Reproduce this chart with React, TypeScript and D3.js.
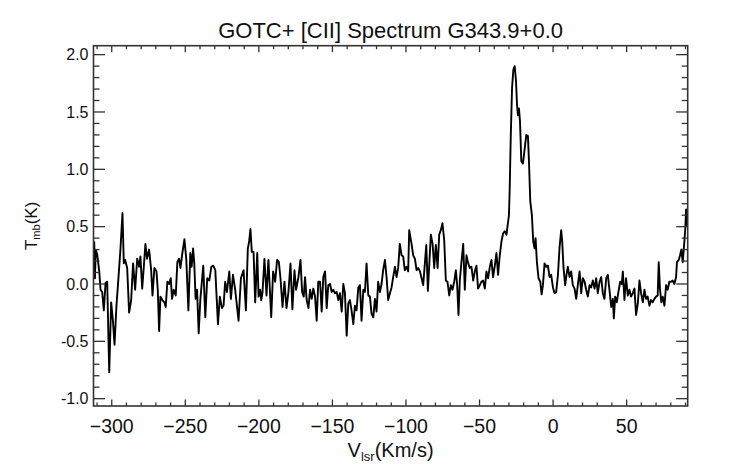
import React from "react";
import * as d3 from "d3";

const title = "GOTC+ [CII] Spectrum G343.9+0.0";

const velocity = [
  -311.9,-311.4,-310.9,-309.9,-308.5,-307.6,-306.5,-305.4,-304.2,-303.1,-301.7,-300.4,-299.2,-298.1,-296.8,-295.4,-294.0,-292.7,-291.8,-290.9,
  -289.5,-288.2,-286.8,-285.5,-284.1,-282.7,-281.4,-280.5,-279.3,-278.2,-277.1,-276.0,-274.6,-273.2,-272.3,-271.0,-269.6,-268.7,-267.8,-266.9,
  -265.6,-264.2,-263.3,-262.2,-261.0,-259.9,-259.0,-257.9,-256.5,-255.4,-254.2,-253.3,-252.0,-250.6,-249.3,-247.9,-246.6,-245.7,-244.7,-243.9,
  -243.0,-242.0,-240.9,-239.8,
  -237.8,-236.4,-235.1,-233.7,-232.3,-231.0,-229.6,-227.8,-226.5,-225.1,-224.0,-222.9,-221.7,-220.1,-219.0,-217.6,-216.1,-213.8,-212.2,-210.4,
  -208.8,-207.5,-206.6,-205.7,-204.8,-203.6,-202.5,-201.1,-200.2,-199.1,-198.4,-197.5,-196.2,-194.8,-193.5,-191.6,-190.3,-188.9,-187.6,-186.4,
  -185.3,-183.9,-182.6,-181.2,-179.9,-178.5,-177.2,-175.8,-174.7,-173.1,-171.7,-170.6,-169.5,-168.6,
  -167.5,-166.3,-165.2,-164.1,-163.0,-161.8,-160.7,-159.6,-158.4,-157.3,-156.2,-155.0,-153.9,-152.8,-151.6,-150.5,-149.4,-148.3,-147.1,-146.0,
  -144.9,-143.7,-142.6,-141.5,-140.3,-139.2,-138.1,-137.0,-135.8,-134.7,-133.6,-132.4,-131.3,-130.2,-129.0,-127.9,-126.8,-125.6,-124.5,-123.4,
  -122.2,-121.1,-120.0,-118.9,-117.7,-116.6,-115.5,-114.3,-113.2,-112.1,-110.9,-109.8,-108.7,-107.5,-106.4,-105.3,-104.2,-103.0,-101.9,-100.8,
  -99.6,-98.5,-97.8,
  -96.2,-95.1,-93.9,-92.8,-91.7,-90.5,-89.4,-88.3,-87.1,-86.2,-85.1,-84.2,-83.1,-81.9,-80.8,-79.7,-78.5,-77.4,-76.3,-75.2,
  -74.0,-72.9,-71.8,-70.6,-69.5,-68.4,-67.2,-66.1,-65.2,-64.3,-63.4,-62.3,-61.1,-60.0,-58.9,-57.7,-56.6,-55.5,-54.3,-53.2,
  -52.1,-51.0,-49.8,-48.7,-47.6,-46.4,-45.3,-44.2,-43.0,-41.9,-40.8,-39.6,-38.5,-37.4,-36.3,-35.1,-34.0,-32.9,-31.7,
  -30.0,-29.5,-28.8,-27.9,-27.0,-26.1,-25.2,-24.5,-23.9,-23.2,-22.5,-21.6,-20.5,-19.3,-18.2,-17.1,-16.4,-15.5,-14.4,-13.5,
  -12.6,-11.9,-11.0,-9.9,-8.7,-7.8,-6.9,-5.8,-4.6,-3.5,-2.4,-1.3,-0.1,1.0,2.1,3.3,4.4,5.5,6.2,7.1,
  8.2,9.1,10.0,11.2,12.3,13.4,14.6,
  15.7,16.9,18.0,19.1,20.2,21.4,22.5,23.6,24.8,25.9,27.0,28.2,29.3,30.4,31.6,32.7,33.8,34.9,36.1,37.2,
  38.3,39.5,40.6,41.3,42.2,43.3,44.4,45.6,46.7,47.4,48.5,49.6,50.8,51.9,53.0,54.2,55.3,56.4,57.6,58.7,
  59.8,61.0,62.1,63.2,64.3,65.5,66.6,67.7,68.9,70.0,71.1,71.8,72.7,73.6,74.5,75.7,76.8,77.9,79.0,80.2,
  81.3,82.4,83.6,84.2,85.4,86.3,87.2,88.1,89.0,89.9,90.4,91.0,
];

const tmb = [
  0.37,0.05,0.30,0.26,0.11,-0.05,-0.07,-0.23,0.01,0.02,-0.77,-0.16,-0.32,-0.53,-0.19,0.06,0.32,0.62,0.18,0.21,
  0.14,-0.25,-0.14,0.18,-0.05,0.22,0.15,0.24,-0.04,0.15,0.35,0.22,0.30,0.12,-0.10,0.14,0.11,-0.05,-0.41,-0.11,
  -0.14,-0.16,-0.20,0.02,0.00,0.05,-0.13,-0.05,-0.10,0.19,0.22,0.14,0.27,0.39,0.21,-0.23,0.27,0.15,0.31,0.18,
  -0.13,-0.05,-0.43,-0.14,
  0.16,-0.29,0.05,0.03,0.15,0.16,0.12,-0.35,-0.11,-0.21,-0.19,0.02,-0.07,0.11,-0.13,0.08,-0.05,-0.32,0.05,0.12,
  -0.23,0.31,0.37,0.48,0.28,0.28,-0.16,0.27,-0.11,-0.05,-0.14,-0.07,0.22,-0.10,0.21,-0.29,0.11,0.02,0.21,0.19,
  0.05,-0.20,0.02,-0.21,-0.07,0.18,-0.22,0.12,-0.05,0.06,0.21,-0.07,-0.11,0.06,
  -0.14,-0.21,-0.05,-0.13,-0.04,-0.11,-0.32,0.02,0.02,-0.24,0.06,0.11,-0.21,-0.01,0.00,-0.07,-0.05,-0.08,-0.07,-0.14,
  -0.08,-0.24,0.00,-0.08,-0.45,-0.17,-0.14,-0.23,-0.35,-0.19,-0.23,-0.03,-0.01,-0.32,-0.05,-0.07,0.18,-0.10,-0.11,-0.26,
  -0.29,-0.13,-0.24,0.02,-0.07,0.00,0.12,0.21,0.06,-0.14,-0.08,-0.03,0.06,0.15,0.06,0.14,0.35,0.25,0.24,0.12,
  0.15,0.11,0.47,
  0.35,0.25,0.22,0.12,0.14,0.11,0.05,-0.01,0.19,0.34,-0.06,0.16,0.43,0.35,0.14,0.34,0.14,0.43,0.47,0.53,
  0.38,0.03,0.02,-0.10,-0.01,-0.05,0.02,0.12,-0.01,-0.27,0.03,0.19,0.35,-0.05,0.25,0.18,0.14,0.15,0.03,0.11,
  0.16,-0.04,-0.01,0.02,0.03,-0.04,0.11,0.05,0.15,0.21,0.06,0.16,0.27,0.08,0.24,0.37,0.44,0.46,0.43,
  0.60,0.83,1.27,1.71,1.87,1.90,1.77,1.56,1.47,1.53,1.42,1.07,1.05,1.18,1.30,1.29,1.07,0.72,0.60,0.37,
  0.31,0.40,0.19,0.05,0.02,-0.09,-0.01,0.18,0.15,0.16,0.06,0.08,-0.03,-0.08,-0.07,0.08,0.32,0.47,0.37,0.14,
  -0.01,0.08,0.15,0.06,0.11,-0.01,-0.04,
  -0.13,0.00,0.11,-0.08,0.05,0.02,-0.05,-0.11,-0.01,-0.03,0.03,-0.04,0.05,-0.08,0.02,0.06,-0.08,-0.13,0.05,0.08,
  -0.05,-0.20,-0.13,-0.30,-0.11,-0.16,-0.07,0.02,0.00,0.11,-0.14,0.05,-0.10,-0.05,-0.11,-0.08,-0.04,-0.27,-0.17,0.03,
  -0.08,-0.16,-0.05,-0.13,-0.11,-0.19,-0.14,-0.16,-0.13,-0.11,-0.10,0.19,-0.05,-0.16,-0.11,-0.19,-0.01,-0.05,0.02,0.02,
  0.03,0.00,0.06,0.19,0.21,0.25,0.30,0.19,0.33,0.49,0.65,0.50,
];

const xMajorTicks = [-300, -250, -200, -150, -100, -50, 0, 50];
const xTickLabels = ["\u2212300", "\u2212250", "\u2212200", "\u2212150", "\u2212100", "\u221250", "0", "50"];
const yMajorTicks = [-1.0, -0.5, 0.0, 0.5, 1.0, 1.5, 2.0];
const yTickLabels = ["-1.0", "-0.5", "0.0", "0.5", "1.0", "1.5", "2.0"];

const FONT = "'Liberation Sans', Arial, Helvetica, sans-serif";

export default function App() {
  const W = 742, H = 464;
  const L = 93.5, R = 687.7, T = 45.7, B = 406;
  const x = d3.scaleLinear().domain([-312.4, 91.5]).range([L, R]);
  const y = d3.scaleLinear().domain([-1.064, 2.078]).range([B, T]);

  const xMinor = d3.range(-310, 91, 10).filter((v) => Math.abs(v % 50) > 0.001);
  const yMinor = d3.range(-10, 21).map((i) => i / 10).filter((v, i) => (i % 5) !== 0);

  const pts = velocity.map((v, i) => [v, tmb[i]] as [number, number]);
  const line = d3.line<[number, number]>().x((d) => x(d[0])).y((d) => y(d[1]));
  const path = line(pts) || "";

  const axisColor = "#333";
  const xMajLen = 6.5, xMinLen = 3.5, yMajLen = 11.5, yMinLen = 6;

  return (
    <svg width={W} height={H} style={{ position: "absolute", left: 0, top: 0, background: "#fff" }} fontFamily={FONT}>
      <rect x={0} y={0} width={W} height={H} fill="#fff" />
      <defs>
        <clipPath id="plotclip">
          <rect x={L} y={T} width={R - L} height={B - T} />
        </clipPath>
      </defs>
      <text x={(L + R) / 2} y={38} textAnchor="middle" fontSize={22} fill="#111">{title}</text>

      <path d={path} fill="none" stroke="#000" strokeWidth={1.9} strokeLinejoin="round" clipPath="url(#plotclip)" />

      <g stroke={axisColor} strokeWidth={1.3}>
        {xMajorTicks.map((v) => (
          <g key={"xm" + v}>
            <line x1={x(v)} x2={x(v)} y1={B} y2={B - xMajLen} />
            <line x1={x(v)} x2={x(v)} y1={T} y2={T + xMajLen} />
          </g>
        ))}
        {xMinor.map((v) => (
          <g key={"xn" + v}>
            <line x1={x(v)} x2={x(v)} y1={B} y2={B - xMinLen} />
            <line x1={x(v)} x2={x(v)} y1={T} y2={T + xMinLen} />
          </g>
        ))}
        {yMajorTicks.map((v) => (
          <g key={"ym" + v}>
            <line x1={L} x2={L + yMajLen} y1={y(v)} y2={y(v)} />
            <line x1={R} x2={R - yMajLen} y1={y(v)} y2={y(v)} />
          </g>
        ))}
        {yMinor.map((v) => (
          <g key={"yn" + v}>
            <line x1={L} x2={L + yMinLen} y1={y(v)} y2={y(v)} />
            <line x1={R} x2={R - yMinLen} y1={y(v)} y2={y(v)} />
          </g>
        ))}
        <rect x={L} y={T} width={R - L} height={B - T} fill="none" strokeWidth={1.6} />
      </g>

      {xMajorTicks.map((v, i) => (
        <text key={"xl" + v} x={x(v)} y={433} textAnchor="middle" fontSize={19.5} fill="#111">{xTickLabels[i]}</text>
      ))}
      {yMajorTicks.map((v, i) => (
        <text key={"yl" + v} x={88.5} y={y(v) + 5.6} textAnchor="end" fontSize={16} fill="#111">{yTickLabels[i]}</text>
      ))}

      <text x={(L + R) / 2} y={457} textAnchor="middle" fontSize={20} fill="#111">
        <tspan>V</tspan>
        <tspan fontSize={13} dy={4}>lsr</tspan>
        <tspan dy={-4}>(Km/s)</tspan>
      </text>

      <text transform={`translate(37,${(T + B) / 2}) rotate(-90)`} textAnchor="middle" fontSize={17} fill="#111">
        <tspan>T</tspan>
        <tspan fontSize={11} dy={3}>mb</tspan>
        <tspan dy={-3}>(K)</tspan>
      </text>
    </svg>
  );
}
